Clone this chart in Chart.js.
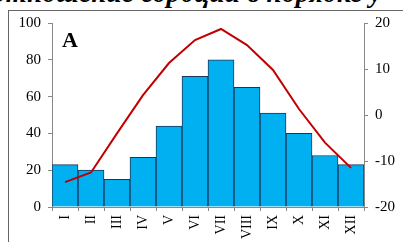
<!DOCTYPE html>
<html>
<head>
<meta charset="utf-8">
<script src="https://cdn.jsdelivr.net/npm/chart.js@4"></script>
<style>
  body { margin: 0; background: #fff; overflow: hidden; }
  #wrap { position: relative; width: 403px; height: 242px; }
  #frame { position: absolute; left: 8px; top: 10px; width: 420px; height: 260px; border: 1px solid #666; box-sizing: border-box; }
  #heading { position: absolute; left: -8px; top: -22px; white-space: nowrap; font: italic bold 27px "Liberation Serif", serif; letter-spacing: 0.3px; color: #000; }
  #panel { position: absolute; left: 62px; top: 27px; font: bold 22px "Liberation Serif", serif; color: #000; }
  canvas { position: absolute; left: 0; top: 0; }
</style>
</head>
<body>
<div id="wrap">
  <div id="heading">отношение сорбции в порядке у</div>
  <div id="frame"></div>
  <canvas id="climateChart" width="403" height="242"></canvas>
  <div id="panel">A</div>
</div>
<script>
// months, precipitation (bars, left axis) and temperature (line, right axis)
const months = ['I', 'II', 'III', 'IV', 'V', 'VI', 'VII', 'VIII', 'IX', 'X', 'XI', 'XII'];
const precipitation = [23, 20, 15, 27, 44, 71, 80, 65, 51, 40, 28, 23];
const temperature = [-14.6, -12.5, -4, 4.3, 11.3, 16.3, 18.7, 15.2, 9.8, 1.3, -6, -11.5];
const leftTicks = [0, 20, 40, 60, 80, 100];
const rightTicks = [-20, -10, 0, 10, 20];

const ctx = document.getElementById('climateChart').getContext('2d');
const axisColor = '#888';
const tickFont = { family: 'Liberation Serif', size: 15 };

new Chart(ctx, {
    data: {
        labels: months,
        datasets: [{
            type: 'line',
            data: temperature,
            yAxisID: 'y1',
            borderColor: '#C00000',
            borderWidth: 2,
            pointRadius: 0,
            tension: 0
        }, {
            type: 'bar',
            data: precipitation,
            yAxisID: 'y',
            backgroundColor: '#00B0F0',
            borderColor: '#1c3559',
            borderWidth: 1,
            borderSkipped: 'bottom',
            categoryPercentage: 1.0,
            barPercentage: 1.0
        }]
    },
    options: {
        responsive: false,
        animation: false,
        layout: { padding: { top: 23, left: 0, right: 0, bottom: 0 } },
        plugins: { legend: { display: false }, tooltip: { enabled: false } },
        scales: {
            x: {
                offset: true,
                grid: { offset: true, drawOnChartArea: false, drawTicks: true, tickLength: 4, color: axisColor },
                border: { color: axisColor },
                ticks: { color: '#000', font: { family: 'Liberation Serif', size: 14 }, maxRotation: 90, minRotation: 90, padding: 4 },
                afterFit: (scale) => { scale.height = 35; }
            },
            y: {
                position: 'left',
                min: 0, max: 100,
                afterBuildTicks: (scale) => { scale.ticks = leftTicks.map(v => ({ value: v })); },
                grid: { drawOnChartArea: false, tickLength: 4, color: axisColor },
                border: { color: axisColor },
                ticks: { color: '#000', font: tickFont, padding: 7 },
                afterFit: (scale) => { scale.width = 52; }
            },
            y1: {
                position: 'right',
                min: -20, max: 20,
                afterBuildTicks: (scale) => { scale.ticks = rightTicks.map(v => ({ value: v })); },
                grid: { drawOnChartArea: false, tickLength: 4, color: axisColor },
                border: { color: axisColor },
                ticks: { color: '#000', font: tickFont, padding: 7 },
                afterFit: (scale) => { scale.width = 39; }
            }
        }
    }
});
</script>
</body>
</html>
